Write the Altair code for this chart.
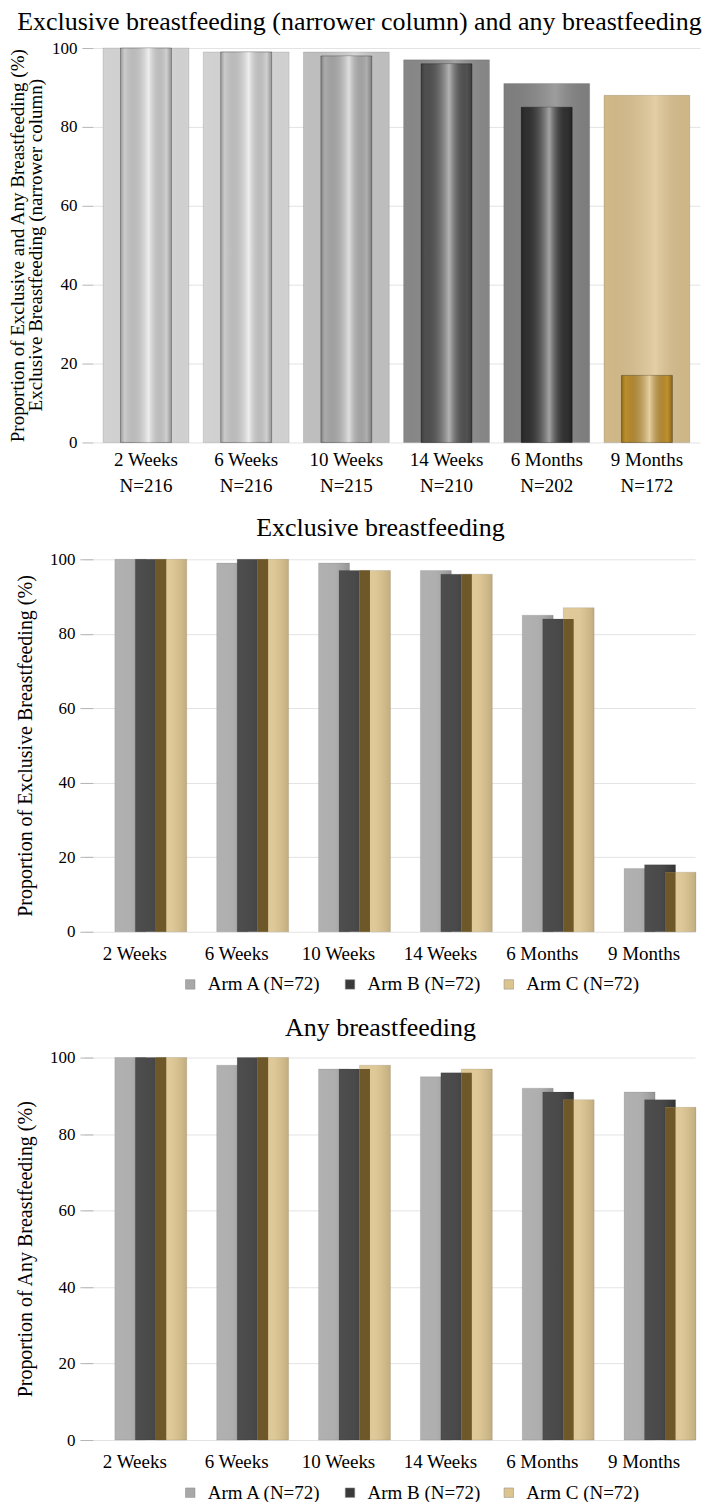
import altair as alt
import pandas as pd

FONT = "Liberation Serif"

# ---------------- data ----------------
timepoints = ["2 Weeks", "6 Weeks", "10 Weeks", "14 Weeks", "6 Months", "9 Months"]
n_labels = ["N=216", "N=216", "N=215", "N=210", "N=202", "N=172"]
any_overall = [100, 99, 99, 97, 91, 88]
excl_overall = [100, 99, 98, 96, 85, 17]

arms = ["Arm A (N=72)", "Arm B (N=72)", "Arm C (N=72)"]
excl_arm_a = [100, 99, 99, 97, 85, 17]
excl_arm_b = [100, 100, 97, 96, 84, 18]
excl_arm_c = [100, 100, 97, 96, 87, 16]
any_arm_a = [100, 98, 97, 95, 92, 91]
any_arm_b = [100, 100, 97, 96, 91, 89]
any_arm_c = [100, 100, 98, 97, 89, 87]

p1_ytitle = "Proportion of Exclusive and Any Breastfeeding (%)"
p1_ytitle2 = ["Exclusive Breastfeeding (narrower column)"]

# ---------------- styles ----------------
wide_colors = ["#dedede", "#dedede", "#cacaca", "#8e8e8e", "#858585", "#dcc28f"]
narrow_colors = ["#d8d8d8", "#d8d8d8", "#b6b6b6", "#555555", "#333333", "#c8962e"]
arm_colors = ["#a8a8a8", "#3a3a3a", "#dcc48f"]
overlap_color = "#6e5829"
arm_dx = [-4.5, 16, 36.5]
overlap_dx = 26.25


def grad(stops):
    return alt.Gradient(
        gradient="linear", x1=0, x2=1, y1=0, y2=0,
        stops=[alt.GradientStop(color=c, offset=o) for o, c in stops],
    )


wide_overlay = grad([(0, "rgba(0,0,0,0.05)"), (0.6, "rgba(255,255,255,0.2)"), (1, "rgba(0,0,0,0.06)")])
narrow_overlay = grad([(0, "rgba(0,0,0,0.28)"), (0.08, "rgba(0,0,0,0.06)"), (0.55, "rgba(255,255,255,0.55)"),
                       (0.9, "rgba(0,0,0,0.04)"), (1, "rgba(0,0,0,0.3)")])
arm_overlay = grad([(0, "rgba(255,255,255,0.10)"), (0.5, "rgba(255,255,255,0.08)"), (1, "rgba(0,0,0,0.12)")])

y_ticks = [0, 20, 40, 60, 80, 100]


def y_axis(title, title_pad, title_size, tick_size):
    return alt.Axis(
        values=y_ticks, title=title, titleFont=FONT, titleFontSize=title_size, titleFontWeight="normal",
        titleColor="black", titlePadding=title_pad, labelFont=FONT, labelFontSize=17,
        labelColor="black", labelPadding=5, domain=False, tickColor="#b5b5b5", tickSize=tick_size,
        grid=True, gridColor="#e3e3e3",
    )


def title_params(text, dx, offset):
    return alt.TitleParams(text, font=FONT, fontSize=26, fontWeight="normal", color="black",
                           anchor="middle", frame="group", dx=dx, offset=offset)


ysc = alt.Scale(domain=[0, 100], nice=False)

# ---------------- panel 1 ----------------
H1 = 395
df1 = pd.DataFrame({
    "time": timepoints,
    "label": [t + "|" + n for t, n in zip(timepoints, n_labels)],
    "any": any_overall,
    "excl": excl_overall,
})
x1 = alt.X("label:N", sort=None,
           scale=alt.Scale(paddingInner=0, paddingOuter=0.03),
           axis=alt.Axis(title=None, labelAngle=0, labelExpr="split(datum.label, '|')",
                         labelFont=FONT, labelFontSize=19, labelColor="black", labelLineHeight=26,
                         domain=False, ticks=False, labelPadding=8))
ax1 = y_axis(p1_ytitle, 24, 19, 11)
b1 = alt.Chart(df1)
wide = b1.mark_bar(width=86, stroke="#000000", strokeOpacity=0.12, strokeWidth=1).encode(
    x=x1,
    y=alt.Y("any:Q", scale=ysc, axis=ax1),
    color=alt.Color("time:N", scale=alt.Scale(domain=timepoints, range=wide_colors), legend=None),
)
wide_o = b1.mark_bar(width=86, color=wide_overlay).encode(x=x1, y=alt.Y("any:Q", scale=ysc, axis=ax1))
narrow = b1.mark_bar(width=51, stroke="#000000", strokeOpacity=0.3, strokeWidth=1).encode(
    x=x1,
    y=alt.Y("excl:Q", scale=ysc, axis=ax1),
    fill=alt.Fill("time:N", scale=alt.Scale(domain=timepoints, range=narrow_colors), legend=None),
)
narrow_o = b1.mark_bar(width=51, color=narrow_overlay).encode(x=x1, y=alt.Y("excl:Q", scale=ysc, axis=ax1))
# second line of the y-axis title
ytitle2 = alt.Chart(pd.DataFrame({"t": p1_ytitle2})).mark_text(
    angle=270, font=FONT, fontSize=19, color="black", align="center", baseline="bottom"
).encode(text="t:N", x=alt.value(-46.5), y=alt.value(H1 / 2))
p1 = alt.layer(wide, wide_o, narrow, narrow_o, ytitle2).resolve_scale(
    color="independent", fill="independent"
).properties(
    width=608, height=H1,
    title=title_params("Exclusive breastfeeding (narrower column) and any breastfeeding", -37, 4),
)


# ---------------- panels 2 & 3 ----------------
def arm_panel(va, vb, vc, title, ytitle, height, toffset):
    rows = []
    for arm, vals in zip(arms, [va, vb, vc]):
        for t, v in zip(timepoints, vals):
            rows.append({"time": t, "arm": arm, "value": v})
    df = pd.DataFrame(rows)
    # region where the Arm C column overlaps the Arm B column
    df_ov = pd.DataFrame({"time": timepoints, "value": [min(b, c) for b, c in zip(vb, vc)]})
    base = alt.Chart(df)
    x = alt.X("time:N", sort=timepoints,
              scale=alt.Scale(paddingInner=0, paddingOuter=0, range=[-9, 603]),
              axis=alt.Axis(title=None, labelAngle=0, labelFont=FONT, labelFontSize=19,
                            labelColor="black", domain=False, ticks=False, labelPadding=13))
    ax = y_axis(ytitle, 14, 20, 13)
    yenc = alt.Y("value:Q", scale=ysc, axis=ax)
    leg = alt.Legend(title=None, orient="none", legendX=88, legendY=height + 43,
                     direction="horizontal", symbolType="square", symbolSize=90,
                     symbolStrokeColor="#888888", symbolStrokeWidth=0.5,
                     labelFont=FONT, labelFontSize=19, labelColor="black",
                     labelOffset=8, columnPadding=18)
    color = alt.Color("arm:N", scale=alt.Scale(domain=arms, range=arm_colors), legend=leg)
    layers = []
    for arm, dx in zip(arms, arm_dx):
        sub = base.transform_filter(alt.datum.arm == arm)
        layers.append(sub.mark_bar(width=31, xOffset=dx, stroke="#000000", strokeOpacity=0.1,
                                   strokeWidth=1).encode(x=x, y=yenc, color=color))
        layers.append(sub.mark_bar(width=31, xOffset=dx, color=arm_overlay).encode(x=x, y=yenc))
    layers.append(alt.Chart(df_ov).mark_bar(width=10.5, xOffset=overlap_dx, color=overlap_color)
                  .encode(x=x, y=yenc))
    return alt.layer(*layers).properties(width=608, height=height,
                                         title=title_params(title, -16, toffset))


p2 = arm_panel(excl_arm_a, excl_arm_b, excl_arm_c, "Exclusive breastfeeding",
               "Proportion of Exclusive Breastfeeding (%)", 373, 9)
p3 = arm_panel(any_arm_a, any_arm_b, any_arm_c, "Any breastfeeding",
               "Proportion of Any Breastfeeding (%)", 383, 8)

chart = alt.vconcat(p1, p2, p3, spacing=20).resolve_scale(
    color="independent", fill="independent"
).resolve_legend(color="independent").properties(
    padding={"left": 0, "top": 0, "right": 0, "bottom": 0}
).configure_view(strokeWidth=0)

chart.save("out.html", embed_options={"renderer": "svg", "actions": False})
